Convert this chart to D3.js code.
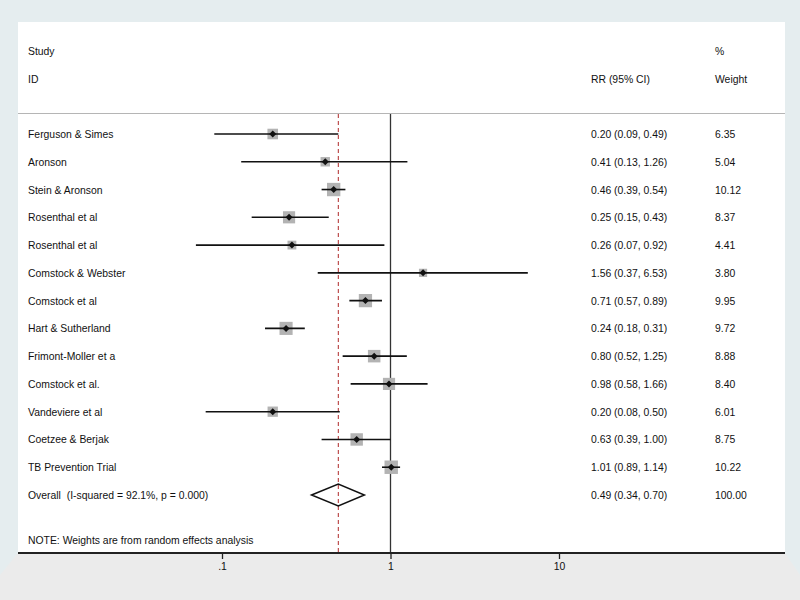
<!DOCTYPE html>
<html><head><meta charset="utf-8">
<script src="https://cdn.jsdelivr.net/npm/d3@7"></script>
<style>body{margin:0;background:#e5edef;}svg{display:block;font-family:"Liberation Sans",Arial,Helvetica,sans-serif;}text{white-space:pre;}</style>
</head><body>
<svg id="c" width="800" height="600"></svg>
<script>
const studies = ["Ferguson & Simes","Aronson","Stein & Aronson","Rosenthal et al","Rosenthal et al","Comstock & Webster","Comstock et al","Hart & Sutherland","Frimont-Moller et a","Comstock et al.","Vandeviere et al","Coetzee & Berjak","TB Prevention Trial"];
const rr = [0.20,0.41,0.46,0.25,0.26,1.56,0.71,0.24,0.80,0.98,0.20,0.63,1.01];
const lo = [0.09,0.13,0.39,0.15,0.07,0.37,0.57,0.18,0.52,0.58,0.08,0.39,0.89];
const hi = [0.49,1.26,0.54,0.43,0.92,6.53,0.89,0.31,1.25,1.66,0.50,1.00,1.14];
const weights = [6.35,5.04,10.12,8.37,4.41,3.80,9.95,9.72,8.88,8.40,6.01,8.75,10.22];
const overall = {label:"Overall  (I-squared = 92.1%, p = 0.000)", rr:0.49, lo:0.34, hi:0.70, w:100.00};
const tickVals = [0.1,1,10];
const tickLabels = [".1","1","10"];

const svg = d3.select("#c");
const L=18, R=785, T=22, B=553;
const FS = 10.4;
const x = d3.scaleLog().domain([0.1,10]).range([222,559]);
const y = d3.scaleLinear().domain([0,13]).range([134,495]);
const fmt = d3.format(".2f");

// bottom grey band
svg.append("path").attr("d",`M${L},${B} L${R},${B} L800,${B+22} L800,600 L0,600 L0,${B+22} Z`).attr("fill","#ebebeb");
// white panel
svg.append("rect").attr("x",L).attr("y",T).attr("width",R-L).attr("height",B-T).attr("fill","#fff");

const g = svg.append("g").attr("font-size",FS).attr("fill","#111");
// headers
g.append("text").attr("x",28).attr("y",55).text("Study");
g.append("text").attr("x",28).attr("y",83).text("ID");
g.append("text").attr("x",591).attr("y",83).text("RR (95% CI)");
g.append("text").attr("x",715).attr("y",55).text("%");
g.append("text").attr("x",715).attr("y",83).text("Weight");
// separator
svg.append("line").attr("x1",L).attr("x2",R).attr("y1",113.5).attr("y2",113.5).attr("stroke","#b5b5b5").attr("stroke-width",1);

// null line
svg.append("line").attr("x1",x(1)).attr("x2",x(1)).attr("y1",114).attr("y2",B).attr("stroke","#333").attr("stroke-width",1.3);
// overall dashed
svg.append("line").attr("x1",x(overall.rr)).attr("x2",x(overall.rr)).attr("y1",114).attr("y2",B).attr("stroke","#b02a2a").attr("stroke-width",1).attr("stroke-dasharray","4,3");

const rows = studies.map((s,i)=>({s,rr:rr[i],lo:lo[i],hi:hi[i],w:weights[i],i}));
// boxes
svg.selectAll("rect.box").data(rows).join("rect").attr("class","box")
  .attr("x",d=>x(d.rr)-2.1*Math.sqrt(d.w)).attr("y",d=>y(d.i)-2.1*Math.sqrt(d.w))
  .attr("width",d=>4.2*Math.sqrt(d.w)).attr("height",d=>4.2*Math.sqrt(d.w)).attr("fill","#b3b3b3");
// CI lines
svg.selectAll("line.ci").data(rows).join("line").attr("class","ci")
  .attr("x1",d=>x(d.lo)).attr("x2",d=>x(d.hi)).attr("y1",d=>y(d.i)).attr("y2",d=>y(d.i))
  .attr("stroke","#111").attr("stroke-width",1.6);
// point diamonds
svg.selectAll("path.pt").data(rows).join("path").attr("class","pt")
  .attr("d",d=>{const cx=x(d.rr),cy=y(d.i);return `M${cx-3.5},${cy} L${cx},${cy-3.5} L${cx+3.5},${cy} L${cx},${cy+3.5} Z`;})
  .attr("fill","#111");
// labels
g.selectAll("text.st").data(rows).join("text").attr("class","st").attr("x",28).attr("y",d=>y(d.i)+4).text(d=>d.s);
g.selectAll("text.ci").data(rows).join("text").attr("class","ci").attr("x",591).attr("y",d=>y(d.i)+4)
  .text(d=>`${fmt(d.rr)} (${fmt(d.lo)}, ${fmt(d.hi)})`);
g.selectAll("text.w").data(rows).join("text").attr("class","w").attr("x",715).attr("y",d=>y(d.i)+4).text(d=>fmt(d.w));

// overall
const oy = y(13);
svg.append("path").attr("d",`M${x(overall.lo)},${oy} L${x(overall.rr)},${oy-11} L${x(overall.hi)},${oy} L${x(overall.rr)},${oy+11} Z`)
  .attr("fill","none").attr("stroke","#111").attr("stroke-width",1.5);
g.append("text").attr("x",28).attr("y",oy+4).text(overall.label);
g.append("text").attr("x",591).attr("y",oy+4).text(`${fmt(overall.rr)} (${fmt(overall.lo)}, ${fmt(overall.hi)})`);
g.append("text").attr("x",715).attr("y",oy+4).text(fmt(overall.w));
g.append("text").attr("x",28).attr("y",544).text("NOTE: Weights are from random effects analysis");

// axis
svg.append("line").attr("x1",L).attr("x2",R).attr("y1",B).attr("y2",B).attr("stroke","#222").attr("stroke-width",2);
const ax = svg.append("g").attr("transform",`translate(0,${B})`)
  .call(d3.axisBottom(x).tickValues(tickVals).tickFormat((d,i)=>tickLabels[i]).tickSize(6).tickPadding(4));
ax.select(".domain").remove();
ax.selectAll("line").attr("stroke","#222").attr("stroke-width",1.3);
ax.selectAll("text").attr("font-size",FS).attr("fill","#111").attr("font-family","Liberation Sans, Arial, sans-serif");
</script>
</body></html>
